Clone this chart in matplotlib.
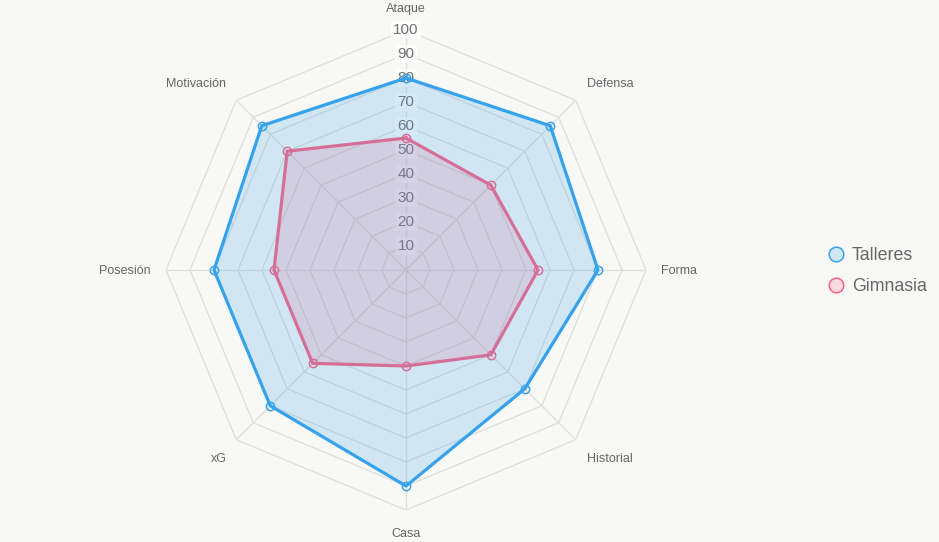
import numpy as np
import matplotlib.pyplot as plt
from matplotlib.lines import Line2D

# Radar data (clockwise from top)
categories = ['Ataque', 'Defensa', 'Forma', 'Historial', 'Casa', 'xG', 'Posesión', 'Motivación']
talleres = [80, 85, 80, 70, 90, 80, 80, 85]
gimnasia = [55, 50, 55, 50, 40, 55, 55, 70]
ticks = [10, 20, 30, 40, 50, 60, 70, 80, 90, 100]
series_names = ['Talleres', 'Gimnasia']

plt.rcParams['font.family'] = ['Liberation Sans', 'DejaVu Sans']

BG = '#f8f8f6'
GRID = '#dfdfdd'
TEXT = '#666666'
BLUE = '#36a2eb'
PINK = '#ff6384'

W, H = 939, 542
fig = plt.figure(figsize=(W / 100, H / 100), dpi=100)
fig.patch.set_facecolor(BG)

cx, cy, R = 406, 270, 240
ax = fig.add_axes([(cx - R) / W, (H - cy - R) / H, 2 * R / W, 2 * R / H], projection='polar')
ax.set_theta_offset(np.pi / 2)
ax.set_theta_direction(-1)
ax.set_ylim(0, 100)
ax.set_xticks([])
ax.set_yticks([])
ax.grid(False)
ax.spines['polar'].set_visible(False)
ax.patch.set_alpha(0)

n = len(categories)
angles = np.linspace(0, 2 * np.pi, n, endpoint=False)
closed = np.append(angles, angles[0])

# polygon grid and angle lines
for r in ticks:
    ax.plot(closed, [r] * (n + 1), color=GRID, lw=1, zorder=1)
for a in angles:
    ax.plot([a, a], [0, 100], color=GRID, lw=1, zorder=1)

# tick labels with backdrop
for r in ticks:
    ax.text(0, r, str(r), ha='center', va='center', fontsize=11, color='#707070', zorder=2,
            bbox=dict(facecolor='white', alpha=0.75, edgecolor='none', pad=1.5))

# point labels
offsets = [(0, 21, 'center'), (11, 16.5, 'left'), (15, -0.5, 'left'), (11, -19.5, 'left'),
           (0, -24, 'center'), (-10, -19.5, 'right'), (-15, -0.5, 'right'), (-10, 16.5, 'right')]
for a, lab, (dx, dy, ha) in zip(angles, categories, offsets):
    ax.annotate(lab, xy=(a, 100), xytext=(dx, dy), textcoords='offset pixels',
                ha=ha, va='center', fontsize=9, color=TEXT, annotation_clip=False)

# datasets: Gimnasia drawn first, Talleres on top
for vals, col, z in [(gimnasia, PINK, 3), (talleres, BLUE, 6)]:
    v = np.append(vals, vals[0])
    ax.fill(closed, v, color=col, alpha=0.2, lw=0, zorder=z)
    ax.plot(closed, v, color=col, lw=2.3, zorder=z + 1)
    ax.plot(angles, vals, 'o', ms=6, mfc='none', mec=col, mew=1.1, zorder=z + 2)

handles = [Line2D([], [], ls='none', marker='o', ms=10.5, mfc=(54/255, 162/255, 235/255, 0.2),
                  mec=BLUE, mew=1.1),
           Line2D([], [], ls='none', marker='o', ms=10.5, mfc=(1, 99/255, 132/255, 0.2),
                  mec=PINK, mew=1.1)]
leg = fig.legend(handles, series_names, loc='center left', bbox_to_anchor=(809 / W, (H - 271) / H),
                 frameon=False, fontsize=12.8, labelcolor=TEXT, handletextpad=0.3,
                 labelspacing=0.8, handlelength=1.2)

fig.savefig('out.png', dpi=100, facecolor=BG)
